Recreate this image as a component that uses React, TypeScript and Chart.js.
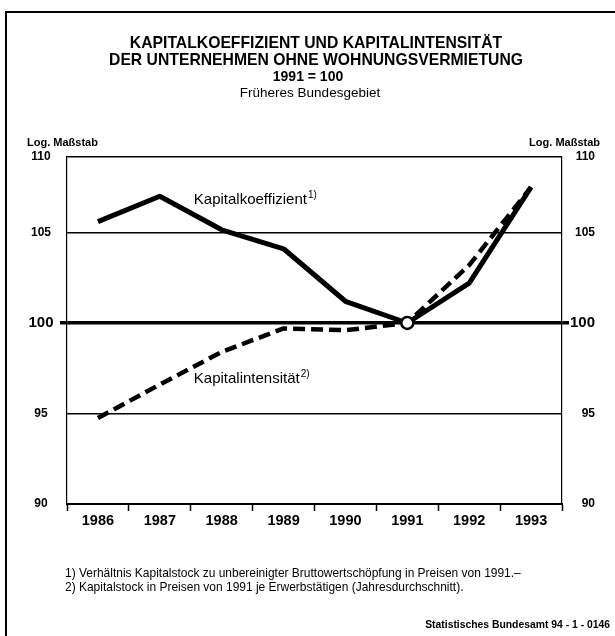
import React, { useEffect, useRef } from 'react';
import { Chart, registerables } from 'chart.js';

Chart.register(...registerables);

const YEARS = ['1986', '1987', '1988', '1989', '1990', '1991', '1992', '1993'];
const KAPITALKOEFFIZIENT = [105.6, 107.0, 105.15, 104.1, 101.2, 100, 102.2, 107.5];
const KAPITALINTENSITAET = [94.75, 96.6, 98.4, 99.7, 99.6, 100, 103.2, 107.5];
const BASE_POINT = [null, null, null, null, null, 100, null, null];
const Y_TICKS = [90, 95, 100, 105, 109.17];
const Y_TICK_LABELS = ['90', '95', '100', '105', '110'];

const TITLE_LINES = [
  'KAPITALKOEFFIZIENT UND KAPITALINTENSITÄT',
  'DER UNTERNEHMEN OHNE WOHNUNGSVERMIETUNG',
  '1991 = 100',
  'Früheres Bundesgebiet',
];
const AXIS_CAPTION = 'Log. Maßstab';
const SERIES_LABELS = ['Kapitalkoeffizient', 'Kapitalintensität'];
const SERIES_NOTES = ['1)', '2)'];
const FOOTNOTES = [
  '1) Verhältnis Kapitalstock zu unbereinigter Bruttowertschöpfung in Preisen von 1991.–',
  '2) Kapitalstock in Preisen von 1991 je Erwerbstätigen (Jahresdurchschnitt).',
];
const SOURCE = 'Statistisches Bundesamt 94 - 1 - 0146';

const FONT = '"Liberation Sans", Arial, Helvetica, sans-serif';

function fitSize(ctx: CanvasRenderingContext2D, text: string, weight: string, target: number) {
  ctx.font = `${weight} 20px ${FONT}`;
  const w = ctx.measureText(text).width;
  return (20 * target) / w;
}

function drawSeriesLabel(ctx: CanvasRenderingContext2D, text: string, note: string, x: number, y: number) {
  ctx.textAlign = 'left';
  ctx.textBaseline = 'middle';
  ctx.font = `15px ${FONT}`;
  ctx.fillText(text, x, y);
  const w = ctx.measureText(text).width;
  ctx.font = `10px ${FONT}`;
  ctx.fillText(note, x + w + 1, y - 5);
}

const decorPlugin = {
  id: 'decor',
  beforeDraw(chart: any) {
    const ctx = chart.ctx;
    ctx.save();
    ctx.fillStyle = '#ffffff';
    ctx.fillRect(0, 0, chart.width, chart.height);
    ctx.restore();
  },
  afterDraw(chart: any) {
    const { ctx, scales } = chart;
    const x = scales.x;
    const y = scales.y;
    ctx.save();
    ctx.fillStyle = '#000';
    ctx.strokeStyle = '#000';

    // frame
    ctx.lineWidth = 2;
    ctx.beginPath();
    ctx.moveTo(6, 636);
    ctx.lineTo(6, 12);
    ctx.lineTo(615, 12);
    ctx.stroke();

    // title
    ctx.textAlign = 'center';
    ctx.textBaseline = 'middle';
    const tSize = fitSize(ctx, TITLE_LINES[1], 'bold', 414);
    ctx.font = `bold ${tSize}px ${FONT}`;
    ctx.fillText(TITLE_LINES[0], 316, 44);
    ctx.fillText(TITLE_LINES[1], 316, 61);
    ctx.font = `bold 14px ${FONT}`;
    ctx.fillText(TITLE_LINES[2], 308, 77);
    ctx.font = `13.5px ${FONT}`;
    ctx.fillText(TITLE_LINES[3], 310, 93);

    // axis captions
    ctx.font = `bold 11px ${FONT}`;
    ctx.textAlign = 'left';
    ctx.fillText(AXIS_CAPTION, 27, 143);
    ctx.textAlign = 'right';
    ctx.fillText(AXIS_CAPTION, 600, 143);

    // series labels
    drawSeriesLabel(ctx, SERIES_LABELS[0], SERIES_NOTES[0], x.getPixelForValue(1) + 34, y.getPixelForValue(106.8));
    drawSeriesLabel(ctx, SERIES_LABELS[1], SERIES_NOTES[1], x.getPixelForValue(1) + 34, y.getPixelForValue(96.9));

    // footnotes
    ctx.textAlign = 'left';
    const fSize = fitSize(ctx, FOOTNOTES[0], 'normal', 456);
    ctx.font = `${fSize}px ${FONT}`;
    ctx.fillText(FOOTNOTES[0], 65, 574);
    ctx.fillText(FOOTNOTES[1], 65, 588);

    ctx.textAlign = 'right';
    const sSize = fitSize(ctx, SOURCE, 'bold', 185);
    ctx.font = `bold ${sSize}px ${FONT}`;
    ctx.fillText(SOURCE, 610, 625);

    ctx.restore();
  },
};

const isBase = (c: any) => c && c.tick && c.tick.value === 100;

function yAxis(position: 'left' | 'right') {
  const left = position === 'left';
  return {
    type: 'linear',
    position,
    min: Y_TICKS[0],
    max: Y_TICKS[Y_TICKS.length - 1],
    afterBuildTicks: (s: any) => {
      s.ticks = Y_TICKS.map((v) => ({ value: v }));
    },
    grid: {
      display: true,
      drawOnChartArea: left,
      color: '#000',
      lineWidth: (c: any) => (isBase(c) ? 3.5 : 1.5),
      drawTicks: true,
      tickLength: 7,
      tickColor: (c: any) => (isBase(c) ? '#000' : 'rgba(0,0,0,0)'),
      tickWidth: 3.5,
    },
    border: { display: true, color: '#000', width: 1.2 },
    ticks: {
      color: '#000',
      crossAlign: left ? 'center' : 'far',
      padding: 6.5,
      autoSkip: false,
      font: (c: any) => ({ family: FONT, weight: 'bold', size: isBase(c) ? 15 : 12 }),
      callback: (_v: any, i: number) => Y_TICK_LABELS[i],
    },
    afterFit: (s: any) => {
      s.width = left ? 67 : 33;
    },
  };
}

export default function App() {
  const canvasRef = useRef<HTMLCanvasElement | null>(null);

  useEffect(() => {
    if (!canvasRef.current) return;
    const chart = new Chart(canvasRef.current, {
      type: 'line',
      data: {
        labels: YEARS,
        datasets: [
          {
            label: '1991 = 100',
            data: BASE_POINT as any,
            showLine: false,
            pointRadius: 6,
            pointBackgroundColor: '#fff',
            pointBorderColor: '#000',
            pointBorderWidth: 2.5,
            borderColor: '#000',
          },
          {
            label: SERIES_LABELS[1],
            data: KAPITALINTENSITAET,
            borderColor: '#000',
            borderWidth: 4.5,
            borderDash: [12, 6],
            borderCapStyle: 'butt',
            borderJoinStyle: 'round',
            pointRadius: 0,
            tension: 0,
            fill: false,
          },
          {
            label: SERIES_LABELS[0],
            data: KAPITALKOEFFIZIENT,
            borderColor: '#000',
            borderWidth: 5,
            borderJoinStyle: 'round',
            pointRadius: 0,
            tension: 0,
            fill: false,
          },
        ],
      },
      options: {
        animation: false,
        responsive: false,
        devicePixelRatio: 1,
        layout: { padding: { left: 0, right: 20, top: 157, bottom: 102 } },
        plugins: {
          legend: { display: false },
          tooltip: { enabled: false },
          title: { display: false },
        },
        scales: {
          x: {
            type: 'category',
            offset: true,
            grid: {
              offset: true,
              drawOnChartArea: false,
              drawTicks: true,
              tickLength: 7,
              tickColor: '#000',
              tickWidth: 1.5,
            },
            border: { display: true, color: '#000', width: 2 },
            ticks: {
              color: '#000',
              font: { family: FONT, weight: 'bold', size: 14.5 },
              padding: 1,
              maxRotation: 0,
              autoSkip: false,
            },
            afterFit: (s: any) => {
              s.height = 30;
            },
          },
          y: yAxis('left') as any,
          y2: yAxis('right') as any,
        },
      },
      plugins: [decorPlugin],
    });
    return () => chart.destroy();
  }, []);

  return (
    <div style={{ position: 'absolute', left: 0, top: 0, width: 615, height: 636 }}>
      <canvas ref={canvasRef} width={615} height={636} />
    </div>
  );
}
